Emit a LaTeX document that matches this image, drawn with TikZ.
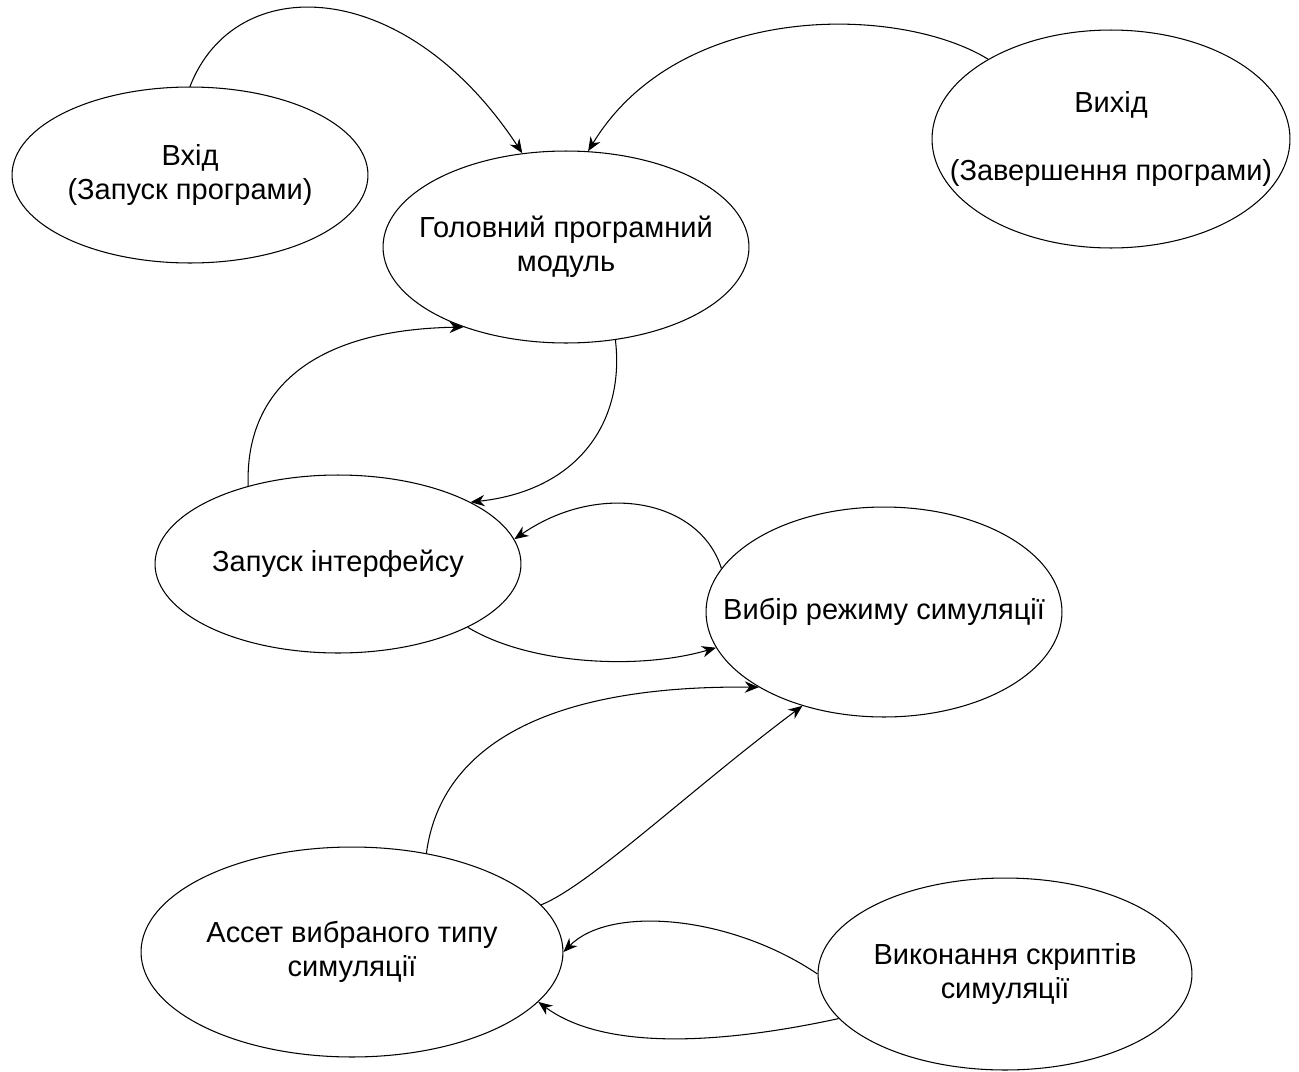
\documentclass[tikz,border=0pt]{standalone}
\usepackage{fontspec}
\setmainfont{Liberation Sans}
\usetikzlibrary{arrows.meta, shapes.geometric}

\begin{document}
\begin{tikzpicture}[x=0.02cm, y=-0.02cm, >={Stealth[length=8pt, width=6.5pt]}]
      % Node style
      \tikzset{
        oval/.style 2 args={draw, ellipse, line width=0.6pt, inner sep=0pt, minimum width=#1, minimum height=#2},
        every label/.style={align=center, font=\fontsize{16.5}{19.3}\selectfont},
        flow/.style={->, line width=0.6pt},
      }
      \useasboundingbox (0,0) rectangle (1299,1072);
      % Nodes
      \node (entry) [oval={7.12cm}{3.52cm}, label={[name=entry-t]center:Вхід\\(Запуск програми)}] at (190,175) {};
      \node (exit) [oval={7.16cm}{4.36cm}, label={[name=exit-t]center:Вихід\\[19pt](Завершення програми)}] at (1111,139) {};
      \node (core) [oval={7.32cm}{3.84cm}, label={[name=core-t]center:Головний програмний\\модуль}] at (566,247) {};
      \node (ui) [oval={7.32cm}{3.56cm}, label={[name=ui-t]center:Запуск інтерфейсу}] at (338,564) {};
      \node (mode) [oval={7.12cm}{4.2cm}, label={[name=mode-t]center:Вибір режиму симуляції}] at (884,612) {};
      \node (asset) [oval={8.44cm}{4.2cm}, label={[name=asset-t]center:Ассет вибраного типу\\симуляції}] at (352,952) {};
      \node (scripts) [oval={7.48cm}{3.84cm}, label={[name=scripts-t]center:Виконання скриптів\\симуляції}] at (1005,974) {};
      % Arrows
      \draw[flow] (entry.90) .. controls (235,-30) and (405,-25) .. (core.115);
      \draw[flow] (exit.147) .. controls (900,5) and (680,0) .. (core.77);
      \draw[flow] (ui.139) .. controls (245,400) and (300,330) .. (core.218);
      \draw[flow] (core.298) .. controls (625,420) and (580,490) .. (ui.25);
      \draw[flow] (mode.165) .. controls (700,500) and (600,480) .. (ui.8);
      \draw[flow] (ui.334) .. controls (530,665) and (640,670) .. (mode.192);
      \draw[flow] (asset.53) .. controls (440,750) and (540,685) .. (mode.211);
      \draw[flow] (asset.14) .. controls (590,885) and (690,790) .. (mode.229);
      \draw[flow] (scripts.180) .. controls (730,915) and (610,905) .. (asset.0);
      \draw[flow] (scripts.195) .. controls (740,1040) and (610,1055) .. (asset.345);
    \end{tikzpicture}
\end{document}
